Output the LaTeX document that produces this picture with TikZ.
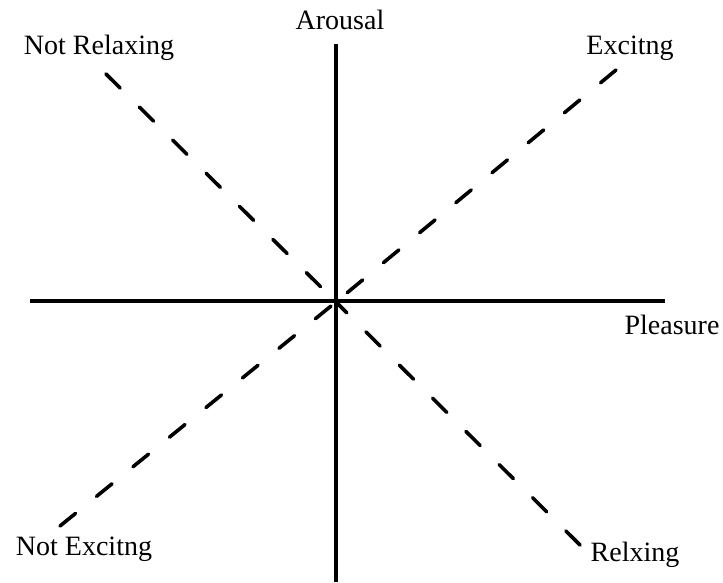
\documentclass[tikz,border=0pt]{standalone}
\usepackage{fontspec}
\setmainfont{Liberation Serif}
\begin{document}
\begin{tikzpicture}[x=1pt,y=-1pt,
  axis/.style={line width=3.8pt},
  diag/.style={line width=3.6pt, dash pattern=on 20pt off 27pt, line cap=round},
  lbl/.style={inner sep=0pt, font=\fontsize{28}{32}\selectfont}]
\useasboundingbox (0,0) rectangle (723,582);
\fill[white] (0,0) rectangle (723,582);
\coordinate (c) at (336,302);
\coordinate (vt) at (336,44);
\coordinate (vb) at (336,582);
\coordinate (hl) at (30,301);
\coordinate (hr) at (665,301);
\coordinate (tl) at (106,74);
\coordinate (tr) at (616,70);
\coordinate (bl) at (60,526);
\coordinate (br) at (580,545);
\draw[axis] (vt) -- (vb);
\draw[axis] (hl) -- (hr);
\draw[diag] (tl) -- (c);
\draw[diag] (tr) -- (c);
\draw[diag] (bl) -- (c);
\draw[diag] (br) -- (c);
\node[lbl] (arousal) at (340,20) {Arousal};
\node[lbl] (nr) at (99,48) {Not Relaxing};
\node[lbl] (ex) at (630,48) {Excitng};
\node[lbl] (pl) at (672,325) {Pleasure};
\node[lbl] (ne) at (84,549) {Not Excitng};
\node[lbl] (rx) at (635,555) {Relxing};
\end{tikzpicture}
\end{document}
